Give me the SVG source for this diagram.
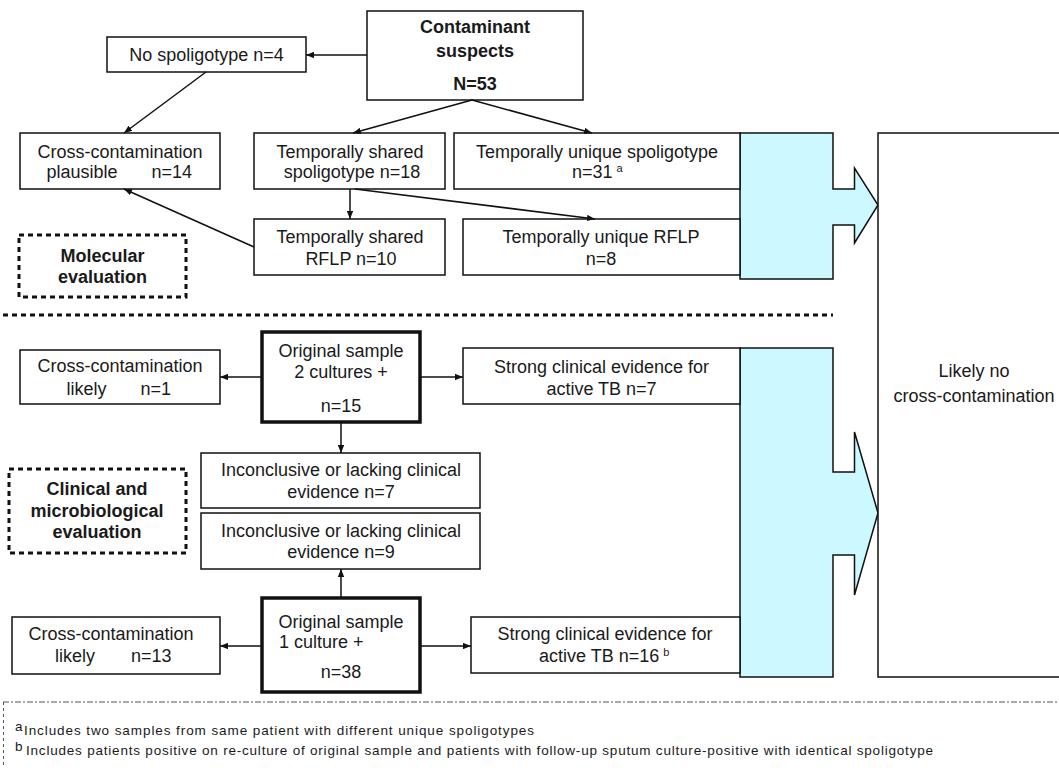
<svg xmlns="http://www.w3.org/2000/svg" width="1059" height="768" viewBox="0 0 1059 768">
<style>
.box{fill:#fff;stroke:#111;stroke-width:1.5}
.thick{fill:#fff;stroke:#111;stroke-width:3.5}
.lbl{fill:#fff;stroke:#111;stroke-width:3;stroke-dasharray:5 4}
.blk{fill:#ccf9ff;stroke:#111;stroke-width:1.5;stroke-linejoin:miter}
.t{font-family:"Liberation Sans",Arial,sans-serif;font-size:18px;fill:#1a1a1a;text-anchor:middle}
.s{text-anchor:start}
.b{font-weight:bold}
.sup{font-size:11px}
.fn{font-family:"Liberation Sans",Arial,sans-serif;font-size:13.5px;fill:#1a1a1a}
.conn line{stroke:#111;stroke-width:1.5;marker-end:url(#ah)}
</style>
<defs>
<marker id="ah" viewBox="0 0 10 8" refX="10" refY="4" markerWidth="8" markerHeight="6.4" orient="auto" markerUnits="userSpaceOnUse"><path d="M0,0 L10,4 L0,8 z" fill="#111"/></marker>
</defs>
<rect width="1059" height="768" fill="#fff"/>

<g id="block-arrow-top"><path class="blk" d="M740,133 H833 V189 H854.5 V168 L878,205 L854.5,243 V225 H833 V279 H740 Z"/></g>
<g id="block-arrow-bottom"><path class="blk" d="M740,348 H833 V472 H854.5 V432 L878,513 L854.5,595 V555 H833 V677 H740 Z"/></g>

<g id="n_likely"><rect class="box" x="878" y="133" width="200" height="544"/>
<text class="t" x="974" y="377">Likely no</text>
<text class="t" x="974" y="402">cross-contamination</text></g>

<g id="n_contam"><rect class="box" x="367" y="11" width="216" height="89"/>
<text class="t b" x="475" y="33">Contaminant</text>
<text class="t b" x="475" y="57">suspects</text>
<text class="t b" x="475" y="90">N=53</text></g>

<g id="n_nospol"><rect class="box" x="107" y="37" width="199" height="35"/>
<text class="t" x="206.5" y="61">No spoligotype n=4</text></g>

<g id="n_ccplaus"><rect class="box" x="20" y="133" width="200" height="56"/>
<text class="t" x="120" y="158">Cross-contamination</text>
<text class="t s" y="178"><tspan x="46.5">plausible</tspan><tspan x="151.5">n=14</tspan></text></g>

<g id="n_tss"><rect class="box" x="254" y="133" width="191" height="56"/>
<text class="t" x="350" y="158">Temporally shared</text>
<text class="t" x="352" y="178">spoligotype n=18</text></g>

<g id="n_tus"><rect class="box" x="454" y="133" width="286" height="56"/>
<text class="t" x="597" y="158">Temporally unique spoligotype</text>
<text class="t s" x="572" y="178">n=31<tspan class="sup" dx="4" dy="-6">a</tspan></text></g>

<g id="n_tsr"><rect class="box" x="254" y="219" width="191" height="56"/>
<text class="t" x="350" y="243">Temporally shared</text>
<text class="t" x="351" y="265">RFLP n=10</text></g>

<g id="n_tur"><rect class="box" x="463" y="219" width="277" height="56"/>
<text class="t" x="601" y="243">Temporally unique RFLP</text>
<text class="t" x="601" y="265">n=8</text></g>

<g id="lbl_mol"><rect class="lbl" x="19" y="235" width="167" height="62"/>
<text class="t b" x="102.5" y="262">Molecular</text>
<text class="t b" x="102.5" y="283">evaluation</text></g>

<g id="separator"><line x1="3" y1="315" x2="833" y2="315" stroke="#111" stroke-width="3" stroke-dasharray="5 4"/></g>

<g id="n_orig2"><rect class="thick" x="262" y="332" width="158" height="90"/>
<text class="t" x="341" y="357">Original sample</text>
<text class="t" x="341" y="378">2 cultures +</text>
<text class="t" x="341" y="412">n=15</text></g>

<g id="n_ccl1"><rect class="box" x="20" y="350" width="200" height="54"/>
<text class="t" x="120" y="372">Cross-contamination</text>
<text class="t s" y="395"><tspan x="66.5">likely</tspan><tspan x="140.5">n=1</tspan></text></g>

<g id="n_strong7"><rect class="box" x="463" y="348" width="277" height="56"/>
<text class="t" x="601.5" y="373">Strong clinical evidence for</text>
<text class="t" x="601.5" y="395">active TB n=7</text></g>

<g id="n_inc7"><rect class="box" x="201" y="453" width="279" height="55"/>
<text class="t" x="341" y="476">Inconclusive or lacking clinical</text>
<text class="t" x="341" y="498">evidence n=7</text></g>

<g id="n_inc9"><rect class="box" x="201" y="513" width="279" height="56"/>
<text class="t" x="341" y="537">Inconclusive or lacking clinical</text>
<text class="t" x="341" y="558">evidence n=9</text></g>

<g id="lbl_clin"><rect class="lbl" x="9" y="469" width="177" height="84"/>
<text class="t b" x="97" y="495">Clinical and</text>
<text class="t b" x="97" y="517">microbiological</text>
<text class="t b" x="97" y="538">evaluation</text></g>

<g id="n_orig1"><rect class="thick" x="262" y="598" width="158" height="94"/>
<text class="t" x="341" y="628">Original sample</text>
<text class="t s" x="279" y="648">1 culture +</text>
<text class="t" x="341" y="678">n=38</text></g>

<g id="n_ccl13"><rect class="box" x="12" y="617" width="208" height="57"/>
<text class="t" x="111" y="640">Cross-contamination</text>
<text class="t s" y="662"><tspan x="55">likely</tspan><tspan x="131">n=13</tspan></text></g>

<g id="n_strong16"><rect class="box" x="471" y="617" width="269" height="56"/>
<text class="t" x="605" y="640">Strong clinical evidence for</text>
<text class="t s" x="539" y="662">active TB n=16<tspan class="sup" dx="4" dy="-6">b</tspan></text></g>

<g id="connectors" class="conn">
<line x1="367" y1="55" x2="306" y2="55"/>
<line x1="206" y1="72" x2="124" y2="133"/>
<line x1="472" y1="100" x2="353" y2="133"/>
<line x1="472" y1="100" x2="592" y2="133"/>
<line x1="350" y1="189" x2="350" y2="219"/>
<line x1="355" y1="189" x2="595" y2="219"/>
<line x1="254" y1="247" x2="124" y2="189"/>
<line x1="262" y1="377" x2="220" y2="377"/>
<line x1="420" y1="377" x2="463" y2="377"/>
<line x1="341" y1="422" x2="341" y2="453"/>
<line x1="341" y1="598" x2="341" y2="569"/>
<line x1="262" y1="646" x2="220" y2="646"/>
<line x1="420" y1="646" x2="471" y2="646"/>
</g>

<g id="footnotes">
<line x1="3" y1="702" x2="1059" y2="702" stroke="#555" stroke-width="1" stroke-dasharray="6 2 2 2"/>
<line x1="3.5" y1="702" x2="3.5" y2="768" stroke="#555" stroke-width="1" stroke-dasharray="3 3"/>
<text class="fn" x="15" y="731" font-size="9">a</text>
<text class="fn" x="24" y="735" textLength="510" lengthAdjust="spacing">Includes two samples from same patient with different unique spoligotypes</text>
<text class="fn" x="15" y="751" font-size="9">b</text>
<text class="fn" x="26" y="755" textLength="907" lengthAdjust="spacing">Includes patients positive on re-culture of original sample and patients with follow-up sputum culture-positive with identical spoligotype</text>
</g>
</svg>
